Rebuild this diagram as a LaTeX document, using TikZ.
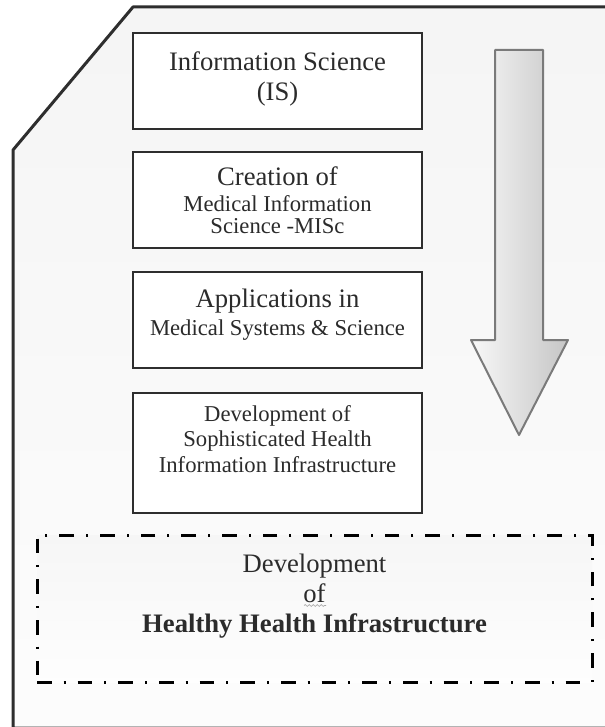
\documentclass[tikz,border=0pt]{standalone}
\usepackage{fontspec}
\setmainfont{Liberation Serif}
\usetikzlibrary{calc, decorations.pathmorphing}

\definecolor{ink}{HTML}{2B2B2B}
\definecolor{frame}{HTML}{2E2E2E}
\definecolor{arrowline}{HTML}{7A7A7A}

\newcommand{\bigline}{\fontsize{20}{22.5}\selectfont}
\newcommand{\smallline}{\fontsize{17}{16.5}\selectfont}
\newcommand{\infraline}{\fontsize{17}{19}\selectfont}

\begin{document}
\begin{tikzpicture}[x=0.75pt, y=-0.75pt,
	stage/.style={draw=frame, line width=1pt, fill=white, minimum width=216.75pt, minimum height=72pt, inner sep=0pt},
	stagetext/.style={align=center, text=ink, inner sep=0pt}]
	\useasboundingbox (0,0) rectangle (605,727);
	\clip (0,0) rectangle (605,727);
	
	% frame with cut corner
	\draw[frame, line width=2.25pt, line join=round, top color=gray!8, bottom color=gray!2] (625,7) -- (133,7) -- (13,150) -- (13,728) -- (625,728);
	
	\begin{scope}
		\node[stage] (is) at (277.5,81) {};
		\node[stagetext, font=\bigline] (is-t) at (277.5,79) {Information Science\\(IS)};
		
		\node[stage] (misc) at (277.5,200) {};
		\node[stagetext, font=\smallline] (misc-t) at (277.5,200) {{\bigline Creation of}\\[3pt]Medical Information\\Science -MISc};
		
		\node[stage] (apps) at (277.5,320) {};
		\node[stagetext, font=\smallline] (apps-t) at (277.5,314.5) {{\bigline Applications in}\\[4.5pt]Medical Systems \& Science};
		
		\node[stage, minimum height=90pt] (infra) at (277.5,453) {};
		\node[stagetext, font=\infraline] (infra-t) at (277.5,439) {Development of\\Sophisticated Health\\Information Infrastructure};
	\end{scope}
	
	% downward arrow
	\draw[arrowline, line width=1.5pt, line join=round, left color=white!94!gray, right color=gray!45] (495,50) -- (543,50) -- (543,340) -- (568,340) -- (519,435) -- (471,340) -- (495,340) -- cycle;
	
	% goal
	\node[draw=black, line width=2.25pt, dash pattern=on 11pt off 9pt on 1.5pt off 9pt, top color=gray!7, bottom color=gray!1, minimum width=416.25pt, minimum height=110.25pt] (goal) at (314.5,608.5) {};
	\node[stagetext, font=\bigline] (goal-t) at (314.5,596) {Development\\of\\\textbf{Healthy Health Infrastructure}};
	\draw[gray!70, line width=0.5pt, decorate, decoration={snake, amplitude=0.7pt, segment length=3pt}] (304,605.5) -- (326,605.5);
\end{tikzpicture}
\end{document}
